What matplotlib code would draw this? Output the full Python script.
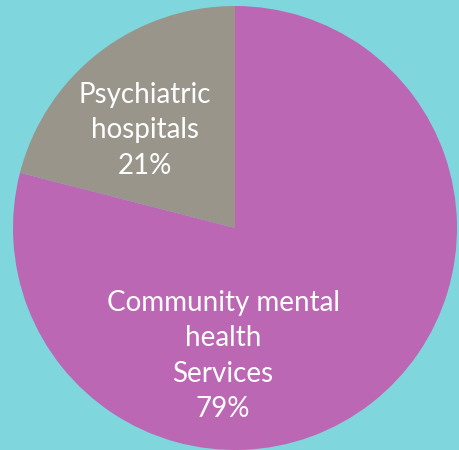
import matplotlib.pyplot as plt

labels = ['Psychiatric\nhospitals\n21%', 'Community mental\nhealth\nServices\n79%']
shares = [21, 79]
colors = ['#9a958a', '#bc67b4']
bg = '#7fd6dc'

# label spots in pie units (radius 1)
label_xy = [(-0.405, 0.44), (-0.054, -0.577)]

fig = plt.figure(figsize=(4.59, 4.50), dpi=100, facecolor=bg)
ax = fig.add_axes([0, 0, 1, 1])
ax.set_facecolor(bg)

ax.pie(shares, colors=colors, startangle=90, counterclock=True, radius=1,
       wedgeprops=dict(linewidth=0))

for txt, (x, y) in zip(labels, label_xy):
  ax.text(x, y, txt, ha='center', va='center', color='white',
          fontsize=20, family='Lato', linespacing=1.45)

ax.set_xlim(-235 / 222, 224 / 222)
ax.set_ylim(-222 / 222, 228 / 222)
ax.set_aspect('auto')
ax.axis('off')

fig.savefig('out.png', dpi=100, facecolor=bg)
